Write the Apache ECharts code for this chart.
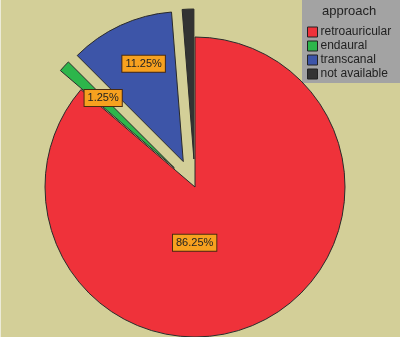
<!DOCTYPE html>
<html><head><meta charset="utf-8">
<script src="https://cdn.jsdelivr.net/npm/echarts@6/dist/echarts.min.js"></script>
<style>html,body{margin:0;padding:0;background:#D3CF98;}#c{width:400px;height:337px;}</style>
</head><body><div id="c"></div>
<script>
var categories = ['retroauricular', 'endaural', 'transcanal', 'not available'];
var counts = [69, 1, 9, 1];
var colors = ['#EF323A', '#2DB64B', '#3D55A8', '#333333'];
var exploded = [false, true, true, true];
var showLabel = [true, true, true, false];
var labelOffsets = [[-33, -15], [-14, -17], [-7, -27], [0, 0]];

var total = counts.reduce(function(a, b) { return a + b; }, 0);
var data = categories.map(function(c, i) {
  return {
    name: c, value: counts[i], selected: exploded[i],
    itemStyle: { color: colors[i] },
    label: { show: showLabel[i], offset: labelOffsets[i] },
    select: { label: { show: showLabel[i], offset: labelOffsets[i] }, itemStyle: { color: colors[i] } }
  };
});

var chart = echarts.init(document.getElementById('c'), null, { renderer: 'canvas' });
chart.setOption({
  animation: false,
  backgroundColor: '#D3CF98',
  graphic: [
    { type: 'rect', shape: { x: 302, y: 0, width: 98, height: 83 }, style: { fill: '#A3A3A3' }, z: 0 },
    { type: 'rect', shape: { x: 0, y: 0, width: 1, height: 337 }, style: { fill: '#ECEBD8' }, z: 0 }
  ],
  title: {
    text: 'approach', left: 322, top: 5, padding: 0,
    textStyle: { fontFamily: 'Liberation Sans', fontSize: 13, fontWeight: 'normal', color: '#222' }
  },
  legend: {
    orient: 'vertical', left: 305, top: 24, padding: 2,
    itemWidth: 10, itemHeight: 10, itemGap: 2, icon: 'rect',
    data: categories,
    itemStyle: { borderColor: '#222', borderWidth: 1 },
    textStyle: { fontFamily: 'Liberation Sans', fontSize: 12, color: '#222', padding: [0, 0, 0, -2] },
    selectedMode: false
  },
  series: [{
    type: 'pie', radius: 150, center: [195, 187],
    startAngle: 90, clockwise: true,
    selectedMode: 'multiple', selectedOffset: 28,
    avoidLabelOverlap: false,
    emphasis: { disabled: true }, select: { disabled: false },
    itemStyle: { borderColor: '#2a2a2a', borderWidth: 1 },
    label: {
      show: true, position: 'inside',
      formatter: function(p) { return (p.value / total * 100).toFixed(2) + '%'; },
      fontFamily: 'Liberation Sans', fontSize: 11, color: '#222',
      backgroundColor: '#F7A11F', borderColor: '#4a2a10', borderWidth: 1, padding: [3, 3, 2, 3]
    },
    labelLine: { show: false },
    data: data
  }]
});
</script></body></html>
